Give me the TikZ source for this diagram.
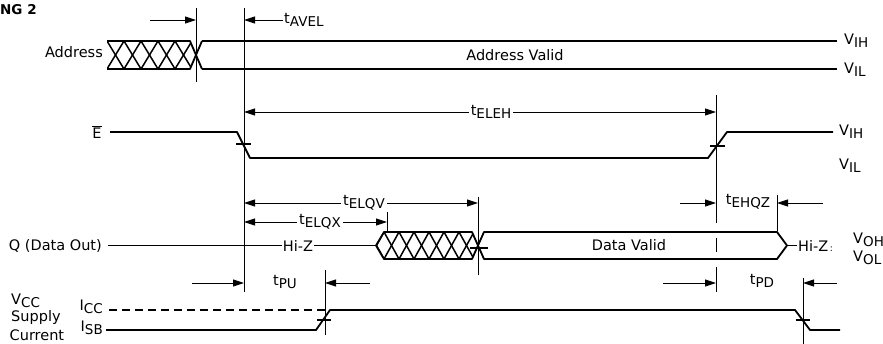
\documentclass[tikz,border=0pt]{standalone}
\usepackage{fontspec}
\setmainfont{DejaVu Sans}
\usetikzlibrary{arrows.meta}
\newcommand\sbs[2]{#1\raisebox{-0.22em}{\fontsize{13.5}{13.5}\selectfont #2}}
\begin{document}
\begin{tikzpicture}[x=1pt,y=-1pt,
  wave/.style={line width=1.8pt,line join=round},
  thinline/.style={line width=0.9pt},
  dimarrow/.style={thinline,-{Triangle[length=11pt,width=7pt]}},
  txt/.style={font=\fontsize{14.5}{16}\selectfont,inner sep=1pt},
  hatchline/.style={line width=1.5pt}]
\useasboundingbox (0,0) rectangle (883,344);

% title
\node[txt,font=\fontsize{13.5}{15}\selectfont\bfseries,anchor=west,inner sep=0pt] (title) at (0,9.5) {NG 2};

% ---------- Address ----------
\node[txt,anchor=east] (addr) at (104,52) {Address};
\begin{scope}
  \clip (107,41) -- (190,41) -- (196,55) -- (190,69) -- (107,69) -- cycle;
  \foreach \a in {90,107,...,200} {
    \draw[hatchline] (\a,41) -- ({\a+17},69);
    \draw[hatchline] ({\a+17},41) -- (\a,69);
  }
\end{scope}
\draw[wave] (107,41) -- (190,41) -- (202,69);
\draw[wave] (107,69) -- (190,69) -- (202,41);
\draw[wave] (202,41) -- (837,41);
\draw[wave] (202,69) -- (837,69);
\node[txt] (addrvalid) at (515,55) {Address Valid};
\node[txt,anchor=west] (avih) at (843,41) {\sbs{V}{IH}};
\node[txt,anchor=west] (avil) at (843,70) {\sbs{V}{IL}};

% verticals
\coordinate (v1t) at (196,8);  \coordinate (v1b) at (196,82);
\coordinate (v2t) at (244,8);  \coordinate (v2b) at (244,292);
\draw[thinline] (v1t) -- (v1b);
\draw[thinline] (v2t) -- (v2b);
\coordinate (a1s) at (150,20); \coordinate (a1e) at (196,20);
\draw[dimarrow] (a1s) -- (a1e);
\node[txt,anchor=west] (tavel) at (283,20) {\sbs{t}{AVEL}};
\coordinate (a2e) at (244,20);
\draw[dimarrow] (tavel.west) -- (a2e);

% ---------- E ----------
\node[txt] (ebar) at (97,132) {$\overline{\mbox{E}}$};
\draw[wave] (110,132) -- (237,132) -- (250,158) -- (708,158) -- (727,132) -- (833,132);
\draw[wave] (236,144) -- (251,144);
\draw[wave] (710,146) -- (725,146);
\node[txt,anchor=west] (evih) at (838,132) {\sbs{V}{IH}};
\node[txt,anchor=west] (evil) at (838,166) {\sbs{V}{IL}};

\node[txt,fill=white,inner xsep=2pt] (teleh) at (491,112) {\sbs{t}{ELEH}};
\coordinate (eleh1) at (244,112); \coordinate (eleh2) at (716,112);
\draw[dimarrow] (teleh.west) -- (eleh1);
\draw[dimarrow] (teleh.east) -- (eleh2);
\coordinate (v3t) at (716,95); \coordinate (v3a) at (716,223);
\coordinate (v3c) at (716,238); \coordinate (v3d) at (716,252);
\coordinate (v3e) at (716,267); \coordinate (v3b) at (716,292);
\draw[thinline] (v3t) -- (v3a);
\draw[thinline] (v3c) -- (v3d);
\draw[thinline] (v3e) -- (v3b);

% ---------- Q ----------
\node[txt,anchor=east] (qlab) at (103,245.5) {Q (Data Out)};
\node[txt] (hiz1) at (298,245.5) {Hi-Z};
\draw[line width=1.3pt] (108,245.5) -- (hiz1.west);
\draw[line width=1.3pt] (hiz1.east) -- (376,245.5);
\begin{scope}
  \clip (376,245.5) -- (384,232) -- (472,232) -- (478,245.5) -- (472,259) -- (384,259) -- cycle;
  \foreach \a in {369,384,...,480} {
    \draw[hatchline] (\a,232) -- ({\a+15},259);
    \draw[hatchline] ({\a+15},232) -- (\a,259);
  }
\end{scope}
\draw[wave] (376,245.5) -- (384,232) -- (472,232) -- (484,259) -- (777,259) -- (787,245.5);
\draw[wave] (376,245.5) -- (384,259) -- (472,259) -- (484,232) -- (777,232) -- (787,245.5);
\draw[wave] (470,248) -- (488,248);
\node[txt] (datavalid) at (629,245.5) {Data Valid};
\node[txt,anchor=west] (hiz2) at (797,245.5) {Hi-Z{\fontsize{9}{9}\selectfont\,:}};
\draw[line width=1.3pt] (787,245.5) -- (hiz2.west);
\node[txt,anchor=west] (voh) at (852,240) {\sbs{V}{OH}};
\node[txt,anchor=west] (vol) at (852,258) {\sbs{V}{OL}};

\coordinate (v4t) at (478,197); \coordinate (v4b) at (478,275);
\draw[thinline] (v4t) -- (v4b);
\coordinate (v5t) at (387,212); \coordinate (v5b) at (387,232);
\draw[thinline] (v5t) -- (v5b);

\node[txt,fill=white,inner xsep=2pt] (telqv) at (364,203) {\sbs{t}{ELQV}};
\coordinate (elqv1) at (244,203); \coordinate (elqv2) at (478,203);
\draw[dimarrow] (telqv.west) -- (elqv1);
\draw[dimarrow] (telqv.east) -- (elqv2);
\node[txt,fill=white,inner xsep=2pt] (telqx) at (320,222) {\sbs{t}{ELQX}};
\coordinate (elqx1) at (244,222); \coordinate (elqx2) at (387,222);
\draw[dimarrow] (telqx.west) -- (elqx1);
\draw[dimarrow] (telqx.east) -- (elqx2);

\node[txt] (tehqz) at (748,202) {\sbs{t}{EHQZ}};
\coordinate (ehqz1s) at (680,203); \coordinate (ehqz1e) at (716,203);
\coordinate (ehqz2s) at (823,203); \coordinate (ehqz2e) at (777,203);
\draw[dimarrow] (ehqz1s) -- (ehqz1e);
\draw[dimarrow] (ehqz2s) -- (ehqz2e);
\coordinate (v6t) at (777,195); \coordinate (v6b) at (777,231);
\draw[thinline] (v6t) -- (v6b);

% ---------- Vcc ----------
\node[txt,anchor=west] (vcc) at (10,301) {\sbs{V}{CC}};
\node[txt,anchor=west] (supply) at (10,318) {Supply};
\node[txt,anchor=base west,inner sep=0.5pt] (current) at (9,341) {Current};
\node[txt,anchor=east] (icc) at (104,307) {\sbs{I}{CC}};
\node[txt,anchor=east] (isb) at (104,328) {\sbs{I}{SB}};
\draw[line width=1.3pt,dash pattern=on 8pt off 5pt] (109,310) -- (325,310);
\draw[wave] (106,330) -- (316,330) -- (330,310) -- (795,310) -- (810,330) -- (840,330);
\draw[wave] (317,320) -- (331,320);
\draw[wave] (796,320) -- (810,320);

\coordinate (v7t) at (325,270); \coordinate (v7b) at (325,335);
\draw[thinline] (v7t) -- (v7b);
\coordinate (v8t) at (803,278); \coordinate (v8b) at (803,344);
\draw[thinline] (v8t) -- (v8b);

\node[txt] (tpu) at (285,282) {\sbs{t}{PU}};
\coordinate (pu1s) at (192,283); \coordinate (pu1e) at (244,283);
\coordinate (pu2s) at (370,283); \coordinate (pu2e) at (325,283);
\draw[dimarrow] (pu1s) -- (pu1e);
\draw[dimarrow] (pu2s) -- (pu2e);

\node[txt] (tpd) at (762,281) {\sbs{t}{PD}};
\coordinate (pd1s) at (663,283); \coordinate (pd1e) at (716,283);
\coordinate (pd2s) at (837,283); \coordinate (pd2e) at (803,283);
\draw[dimarrow] (pd1s) -- (pd1e);
\draw[dimarrow] (pd2s) -- (pd2e);
\end{tikzpicture}
\end{document}
